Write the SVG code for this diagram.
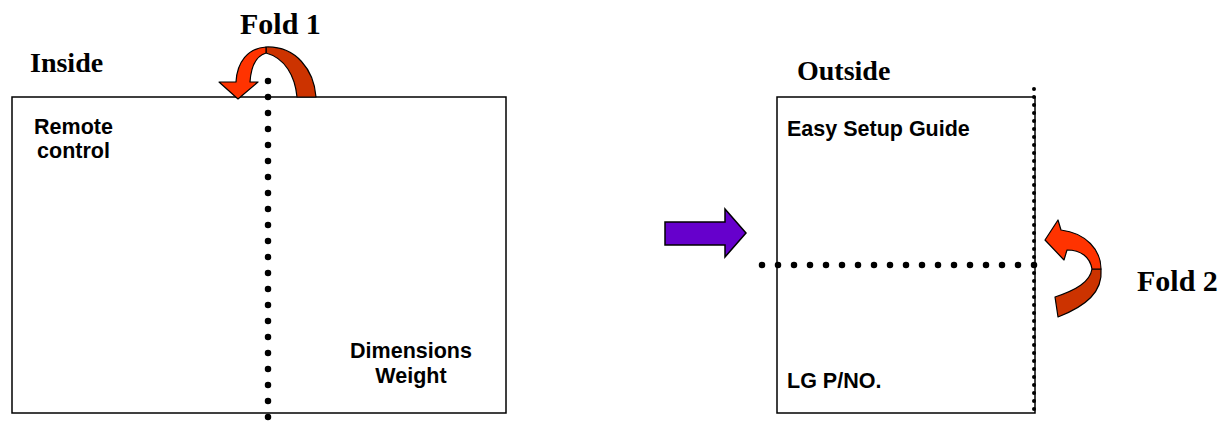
<svg xmlns="http://www.w3.org/2000/svg" width="1230" height="438" viewBox="0 0 1230 438">
<style>
.panel{fill:none;stroke:#000;stroke-width:1.5}
.title{font-family:"Liberation Serif",serif;font-weight:bold;fill:#000}
.lbl{font-family:"Liberation Sans",Arial,sans-serif;font-weight:bold;font-size:21.5px;fill:#000}
.dots{fill:none;stroke:#000;stroke-linecap:round;stroke-dasharray:0 16;stroke-width:6.5}
.fine{fill:none;stroke:#000;stroke-linecap:round;stroke-dasharray:0 8;stroke-width:4}
.front{fill:#FF3300;stroke:#000;stroke-width:1.2;stroke-linejoin:round}
.back{fill:#CC3300;stroke:#000;stroke-width:1.2;stroke-linejoin:round}
</style>
<rect width="1230" height="438" fill="#fff"/>
<g id="inside-panel">
<rect class="panel" x="12" y="97" width="494" height="316"/>
<text class="title" x="30" y="72" font-size="28">Inside</text>
<text class="lbl" x="73.5" y="134" text-anchor="middle">Remote</text>
<text class="lbl" x="73.5" y="158" text-anchor="middle">control</text>
<text class="lbl" x="411" y="358" text-anchor="middle">Dimensions</text>
<text class="lbl" x="411" y="383" text-anchor="middle">Weight</text>
</g>
<g id="outside-panel">
<rect class="panel" x="777" y="97" width="258" height="316"/>
<text class="title" x="797" y="80" font-size="28">Outside</text>
<text class="lbl" x="787" y="136">Easy Setup Guide</text>
<text class="lbl" x="787" y="388">LG P/NO.</text>
</g>
<g id="fold1">
<line class="dots" x1="268" y1="81" x2="268" y2="433"/>
<path class="back" d="M266,47 C296,46 314,70 316,97 L297,97 C295,76 285,58 266,53 Z"/>
<path class="front" d="M266,47 C248,48 237,62 236,82 L219,82 L238,99 L258,82 L250,82 C251,67 256,56 266,53 Z"/>
<text class="title" x="240" y="34" font-size="30">Fold 1</text>
</g>
<g id="fold2">
<line class="fine" x1="1034" y1="89" x2="1034" y2="417"/>
<line class="dots" x1="762" y1="265" x2="1050" y2="265"/>
<path class="back" d="M1101,269 C1103,292 1086,306 1058,317 L1055,297 C1076,290 1090,282 1092,269 Z"/>
<path class="front" d="M1045,240 L1058,220 L1061,230 C1086,233 1101,250 1101,269 L1092,269 C1090,257 1081,250 1067,250 L1064,260 Z"/>
<text class="title" x="1137" y="291" font-size="30">Fold 2</text>
</g>
<g id="connectors">
<path d="M665,222 L725,222 L725,209 L746,233 L725,257 L725,245 L665,245 Z" fill="#6600CC" stroke="#000" stroke-width="1.5" stroke-linejoin="miter"/>
</g>
</svg>
